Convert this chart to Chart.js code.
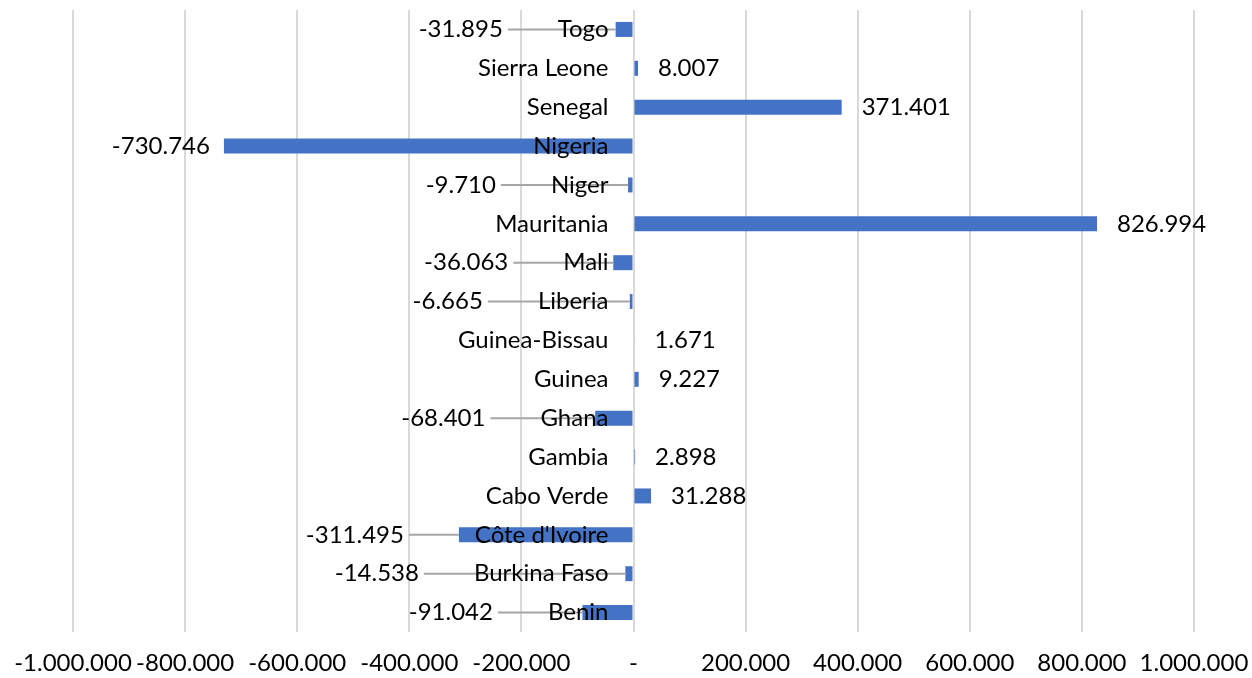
<!DOCTYPE html>
<html>
<head>
<meta charset="utf-8">
<script src="https://cdn.jsdelivr.net/npm/chart.js@4"></script>
<style>
  html, body { margin: 0; padding: 0; background: #fff; }
  #wrap { width: 1252px; height: 678px; position: relative; }
</style>
</head>
<body>
<div id="wrap"><canvas id="balance"></canvas></div>
<script>
// rows top to bottom as in the picture
var countries = ["Togo", "Sierra Leone", "Senegal", "Nigeria", "Niger", "Mauritania",
  "Mali", "Liberia", "Guinea-Bissau", "Guinea", "Ghana", "Gambia", "Cabo Verde",
  "Côte d'Ivoire", "Burkina Faso", "Benin"];
var values = [-31895, 8007, 371401, -730746, -9710, 826994,
  -36063, -6665, 1671, 9227, -68401, 2898, 31288,
  -311495, -14538, -91042];
var tickValues = [-1000000, -800000, -600000, -400000, -200000, 0,
  200000, 400000, 600000, 800000, 1000000];

var FONT = "Lato";
var FONT_SIZE = 24;

function fmt(v) {
  if (v === 0) return "-";
  var s = Math.abs(Math.round(v)).toString().replace(/\B(?=(\d{3})+(?!\d))/g, ".");
  return (v < 0 ? "-" : "") + s;
}

// names sit just left of the zero line, values with leader lines like the excel chart
var rowLabels = {
  id: "rowLabels",
  afterDatasetsDraw: function (chart) {
    var c = chart.ctx;
    var zero = chart.scales.x.getPixelForValue(0);
    var bars = chart.getDatasetMeta(0).data;
    var nameRight = zero - 25;
    c.save();
    c.font = FONT_SIZE + "px " + FONT;
    c.textBaseline = "middle";
    c.fillStyle = "#000";

    bars.forEach(function (bar, i) {
      var v = values[i];
      var y = bar.y;
      if (v >= 0) {
        c.textAlign = "left";
        c.fillText(fmt(v), bar.x + 20, y);
        return;
      }
      var nameLeft = nameRight - c.measureText(countries[i]).width;
      var end = bar.x;
      var far = end < nameLeft - 100;
      var right = far ? end - 14 : Math.min(end, nameLeft) - 55;
      if (!far) {
        c.strokeStyle = "#a6a6a6";
        c.lineWidth = 2;
        c.beginPath();
        c.moveTo(right + 5, y);
        c.lineTo(end, y);
        c.stroke();
      }
      c.textAlign = "right";
      c.fillText(fmt(v), right, y);
    });

    c.textAlign = "right";
    bars.forEach(function (bar, i) {
      c.fillText(countries[i], nameRight, bar.y);
    });
    c.restore();
  }
};

new Chart(document.getElementById("balance"), {
  type: "bar",
  data: {
    labels: countries,
    datasets: [{
      data: values,
      backgroundColor: "#4472C4",
      borderWidth: 0,
      barPercentage: 0.77,
      categoryPercentage: 0.5
    }]
  },
  options: {
    indexAxis: "y",
    responsive: true,
    maintainAspectRatio: false,
    animation: false,
    layout: { padding: { top: 10, left: 73, right: 58, bottom: 0 } },
    plugins: {
      legend: { display: false },
      tooltip: { enabled: false }
    },
    scales: {
      x: {
        min: -1000000,
        max: 1000000,
        afterBuildTicks: function (axis) {
          axis.ticks = tickValues.map(function (v) { return { value: v }; });
        },
        afterFit: function (axis) {
          axis.height = 46;
          axis.paddingLeft = 0;
          axis.paddingRight = 0;
        },
        grid: { color: "#d9d9d9", lineWidth: 2, drawTicks: false },
        border: { display: false },
        ticks: {
          callback: function (v) { return fmt(v); },
          color: "#000",
          padding: 17,
          maxRotation: 0,
          autoSkip: false,
          font: { family: FONT, size: FONT_SIZE }
        }
      },
      y: {
        display: false
      }
    }
  },
  plugins: [rowLabels]
});
</script>
</body>
</html>
